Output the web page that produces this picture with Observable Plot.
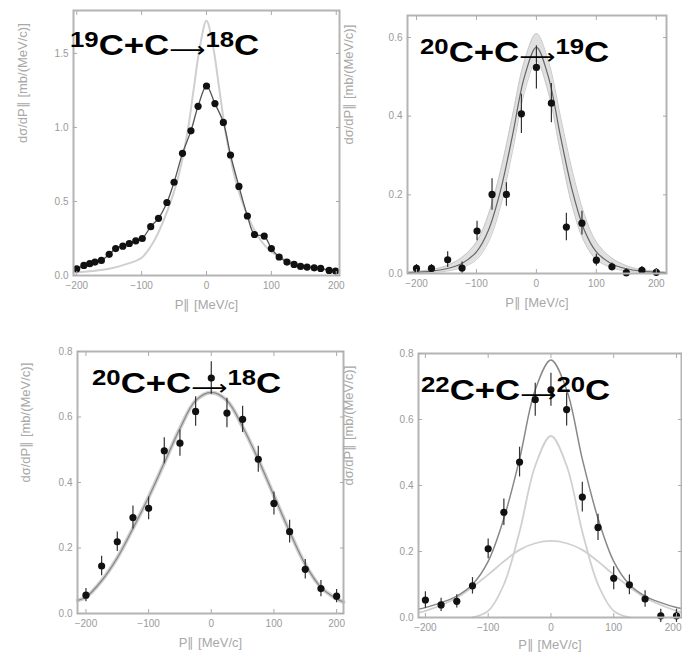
<!DOCTYPE html>
<html><head><meta charset="utf-8">
<script src="https://cdn.jsdelivr.net/npm/d3@7"></script>
<script src="https://cdn.jsdelivr.net/npm/@observablehq/plot@0.6"></script>
<style>
body{margin:0;background:#fff;}
#wrap{position:relative;width:682px;height:659px;overflow:hidden;background:#fff;}
.panel{position:absolute;}
.title{position:absolute;font:bold 29px "Liberation Sans",Arial,sans-serif;color:#000;white-space:nowrap;line-height:1;transform:scaleX(1.2);transform-origin:0 0;}
.title sup{font-size:0.74em;vertical-align:0.38em;line-height:0;}
.title .arr{font-family:"DejaVu Sans",sans-serif;font-weight:normal;font-size:21px;position:relative;top:2px;}
</style></head>
<body><div id="wrap"></div>
<script>
// ---------- data ----------
const xTicks = [-200, -100, 0, 100, 200];
const yTicks1 = [0, 0.5, 1.0, 1.5];
const yTicks2 = [0, 0.2, 0.4, 0.6];
const yTicks3 = [0, 0.2, 0.4, 0.6, 0.8];
const titles = [["19","C+C","18","C"],["20","C+C","19","C"],["20","C+C","18","C"],["22","C+C","20","C"]];
const yLabel = "dσ/dP∥ [mb/(MeV/c)]";
const xLabel = "P∥ [MeV/c]";

// panel 1: 19C+C -> 18C
const p1x = [-200,-189,-180,-172,-162,-150,-140,-129,-119,-109,-99,-86,-74,-61,-50,-37,-24,-13,0,13,26,37,50,63,74,89,100,112,124,135,145,155,166,176,189,199];
const p1y = [0.045,0.068,0.080,0.091,0.102,0.143,0.182,0.198,0.216,0.234,0.250,0.330,0.386,0.493,0.630,0.825,0.977,1.143,1.280,1.161,1.034,0.814,0.602,0.402,0.277,0.266,0.182,0.125,0.091,0.075,0.061,0.057,0.052,0.048,0.034,0.030];
const p1cx = [-205,-175,-150,-125,-100,-80,-60,-45,-30,-20,-10,0,10,20,30,45,60,80,100,125,150,175,205];
const p1cy = [0.02,0.03,0.045,0.075,0.12,0.24,0.44,0.64,0.95,1.25,1.55,1.72,1.55,1.25,0.95,0.64,0.44,0.26,0.16,0.10,0.065,0.045,0.03];

// panel 2: 20C+C -> 19C
const p2x = [-200,-175,-148,-124,-99,-74,-50,-25,0,25,50,76,100,126,150,176,200];
const p2y = [0.013,0.013,0.035,0.014,0.108,0.201,0.201,0.406,0.524,0.433,0.118,0.128,0.034,0.017,0.002,0.008,0.003];
const p2e = [0.01,0.01,0.02,0.015,0.025,0.04,0.03,0.05,0.055,0.05,0.035,0.03,0.015,0.01,0.01,0.01,0.01];
const p2cx = [-215,-175,-150,-125,-100,-80,-60,-40,-20,0,20,40,60,80,100,125,150,175,215];
const p2cy = [0.002,0.006,0.012,0.025,0.055,0.11,0.21,0.35,0.50,0.575,0.50,0.35,0.21,0.11,0.055,0.025,0.012,0.006,0.002];
const p2lo = [0,0.003,0.006,0.015,0.035,0.08,0.17,0.31,0.46,0.54,0.46,0.31,0.17,0.08,0.035,0.015,0.006,0.003,0];
const p2hi = [0.004,0.01,0.02,0.04,0.08,0.15,0.26,0.40,0.54,0.61,0.54,0.40,0.26,0.15,0.08,0.04,0.02,0.01,0.004];

// panel 3: 20C+C -> 18C
const p3x = [-200,-175,-150,-125,-100,-75,-50,-25,0,25,50,75,100,125,150,175,200];
const p3y = [0.056,0.145,0.219,0.293,0.321,0.497,0.520,0.617,0.719,0.612,0.593,0.471,0.336,0.250,0.135,0.076,0.053];
const p3e = [0.02,0.03,0.03,0.035,0.035,0.04,0.04,0.045,0.05,0.045,0.04,0.04,0.035,0.035,0.03,0.025,0.02];
const p3cx = [-213,-200,-175,-150,-125,-100,-75,-50,-25,0,25,50,75,100,125,150,175,200,211];
const p3cy = [0.04,0.05,0.10,0.17,0.26,0.355,0.46,0.565,0.65,0.675,0.65,0.57,0.47,0.36,0.25,0.15,0.08,0.045,0.035];

// panel 4: 22C+C -> 20C
const p4x = [-200,-175,-150,-125,-100,-75,-50,-25,0,25,50,75,100,125,150,175,200];
const p4y = [0.053,0.038,0.049,0.096,0.208,0.319,0.471,0.660,0.69,0.630,0.365,0.273,0.119,0.099,0.056,0.005,0.005];
const p4e = [0.025,0.02,0.02,0.025,0.03,0.04,0.045,0.05,0.05,0.05,0.045,0.04,0.035,0.03,0.025,0.02,0.02];
const p4tx = [-211,-200,-175,-150,-125,-100,-75,-50,-25,0,25,50,75,100,125,150,175,200,208];
const p4ty = [0.025,0.03,0.045,0.065,0.10,0.17,0.30,0.48,0.69,0.78,0.69,0.48,0.30,0.17,0.10,0.065,0.045,0.03,0.027];
const p4nx = [-125,-100,-75,-50,-25,0,25,50,75,100,125];
const p4ny = [0,0.02,0.10,0.26,0.46,0.55,0.46,0.26,0.10,0.02,0];
const p4wx = [-211,-200,-150,-100,-75,-50,-25,0,25,50,75,100,150,200,208];
const p4wy = [0.015,0.02,0.06,0.13,0.17,0.205,0.225,0.232,0.225,0.205,0.17,0.13,0.06,0.02,0.015];

// ---------- helpers ----------
const zip = (xs, ys, es) => xs.map((x, i) => ({x, y: ys[i], e: es ? es[i] : 0}));
const fmtX = d => d < 0 ? "−" + Math.abs(d) : String(d);
const frameColor = "#b4b4b4";
const tickText = "#9a9a9a";

function axes(yTicks, yFmt, ylOff, xlOff, lastAnchorEnd) {
  const main = lastAnchorEnd ? xTicks.slice(0, -1) : xTicks;
  const out = [
    Plot.frame({stroke: frameColor, strokeWidth: 2}),
    Plot.axisX(main, {anchor: "bottom", tickSize: 0, tickPadding: 6, tickFormat: fmtX, fill: tickText, fontSize: 10, label: null}),
    Plot.axisX(xTicks, {anchor: "bottom", tickSize: 4, dy: -4, text: null, stroke: "#aaa", label: null}),
    Plot.axisX(xTicks, {anchor: "top", tickSize: 4, dy: 4, text: null, stroke: "#aaa", label: null}),
    Plot.axisY(yTicks, {anchor: "left", tickSize: 0, tickPadding: 5, tickFormat: yFmt, fill: tickText, fontSize: 10, label: null}),
    Plot.axisY(yTicks, {anchor: "left", tickSize: 4, dx: 4, text: null, stroke: "#aaa", label: null}),
    Plot.axisY(yTicks, {anchor: "right", tickSize: 4, dx: -4, text: null, stroke: "#aaa", label: null}),
    Plot.text([yLabel], {frameAnchor: "left", dx: -ylOff, rotate: -90, fontSize: 13, fill: "#a8a8a8", text: d => d}),
    Plot.text([xLabel], {frameAnchor: "bottom", dy: xlOff, fontSize: 13, fill: "#a8a8a8", text: d => d})
  ];
  if (lastAnchorEnd) {
    out.push(Plot.axisX(xTicks.slice(-1), {anchor: "bottom", tickSize: 0, tickPadding: 6, tickFormat: fmtX, fill: tickText, fontSize: 10, label: null, textAnchor: "end", dx: 5}));
  }
  return out;
}

function makePanel(cfg) {
  const svg = Plot.plot({
    width: cfg.w, height: cfg.h,
    marginLeft: cfg.ml, marginRight: cfg.mr, marginTop: cfg.mt, marginBottom: cfg.mb,
    style: {fontFamily: "'Liberation Sans', Arial, sans-serif", fontSize: "12px", color: "#999", background: "transparent", overflow: "visible"},
    x: {domain: cfg.xd, axis: null},
    y: {domain: cfg.yd, axis: null},
    marks: [...cfg.marks, ...axes(cfg.yTicks, cfg.yFmt, cfg.ylOff, cfg.xlOff, cfg.endLast)]
  });
  const div = document.createElement("div");
  div.className = "panel";
  div.style.left = cfg.left + "px";
  div.style.top = cfg.top + "px";
  div.appendChild(svg);
  document.getElementById("wrap").appendChild(div);
}

function dotsWithErr(data) {
  return [
    Plot.ruleX(data, {x: "x", y1: d => d.y - d.e, y2: d => d.y + d.e, stroke: "#333", strokeWidth: 1.2}),
    Plot.dot(data, {x: "x", y: "y", r: 3.6, fill: "#111", stroke: "none"})
  ];
}

// ---------- panels ----------
const d1 = zip(p1x, p1y);
makePanel({left: 0, top: 0, w: 350, h: 320, ml: 73, mr: 11, mt: 10, mb: 45, xd: [-205, 205], yd: [0, 1.79],
  yTicks: yTicks1, yFmt: d3.format(".1f"), ylOff: 51, xlOff: 33,
  marks: [
    Plot.line(zip(p1cx, p1cy), {x: "x", y: "y", curve: "catmull-rom", stroke: "#cfcfcf", strokeWidth: 2}),
    Plot.line(d1, {x: "x", y: "y", curve: "catmull-rom", stroke: "#555", strokeWidth: 1.3}),
    Plot.dot(d1, {x: "x", y: "y", r: 3.6, fill: "#111", stroke: "none"})
  ]});

const band2 = p2cx.map((x, i) => ({x, lo: p2lo[i], hi: p2hi[i]}));
makePanel({left: 341, top: 0, w: 341, h: 320, ml: 66, mr: 16, mt: 15, mb: 47, xd: [-215, 217], yd: [0, 0.656],
  yTicks: yTicks2, yFmt: d3.format(".1f"), ylOff: 59, xlOff: 33,
  marks: [
    Plot.areaY(band2, {x: "x", y1: "lo", y2: "hi", curve: "catmull-rom", fill: "#e0e0e0"}),
    Plot.line(band2, {x: "x", y: "lo", curve: "catmull-rom", stroke: "#c8c8c8", strokeWidth: 1}),
    Plot.line(band2, {x: "x", y: "hi", curve: "catmull-rom", stroke: "#c8c8c8", strokeWidth: 1}),
    Plot.line(zip(p2cx, p2cy), {x: "x", y: "y", curve: "catmull-rom", stroke: "#666", strokeWidth: 1.2}),
    ...dotsWithErr(zip(p2x, p2y, p2e))
  ]});

makePanel({left: 0, top: 320, w: 345, h: 339, ml: 77, mr: 2, mt: 31, mb: 46, xd: [-213.5, 211], yd: [0, 0.8],
  yTicks: yTicks3, yFmt: d3.format(".1f"), ylOff: 52, xlOff: 33,
  marks: [
    Plot.line(zip(p3cx, p3cy), {x: "x", y: "y", curve: "catmull-rom", stroke: "#d0d0d0", strokeWidth: 4}),
    Plot.line(zip(p3cx, p3cy), {x: "x", y: "y", curve: "catmull-rom", stroke: "#888", strokeWidth: 1.2}),
    ...dotsWithErr(zip(p3x, p3y, p3e))
  ]});

makePanel({left: 341, top: 320, w: 341, h: 339, ml: 77, mr: 1, mt: 33, mb: 42, xd: [-211, 208], yd: [0, 0.8],
  yTicks: yTicks3, yFmt: d3.format(".1f"), ylOff: 70, xlOff: 31, endLast: true,
  marks: [
    Plot.line(zip(p4wx, p4wy), {x: "x", y: "y", curve: "catmull-rom", stroke: "#d0d0d0", strokeWidth: 1.8}),
    Plot.line(zip(p4nx, p4ny), {x: "x", y: "y", curve: "catmull-rom", stroke: "#d0d0d0", strokeWidth: 1.8}),
    Plot.line(zip(p4tx, p4ty), {x: "x", y: "y", curve: "catmull-rom", stroke: "#888", strokeWidth: 1.5}),
    ...dotsWithErr(zip(p4x, p4y, p4e))
  ]});

// ---------- titles ----------
const titlePos = [[70, 31], [420, 38], [92, 369], [421, 376]];
titles.forEach((t, i) => {
  const d = document.createElement("div");
  d.className = "title";
  d.style.left = titlePos[i][0] + "px";
  d.style.top = titlePos[i][1] + "px";
  d.innerHTML = `<sup>${t[0]}</sup>${t[1]}<span class="arr">⟶</span><sup>${t[2]}</sup>${t[3]}`;
  document.getElementById("wrap").appendChild(d);
});
</script>
</body></html>
